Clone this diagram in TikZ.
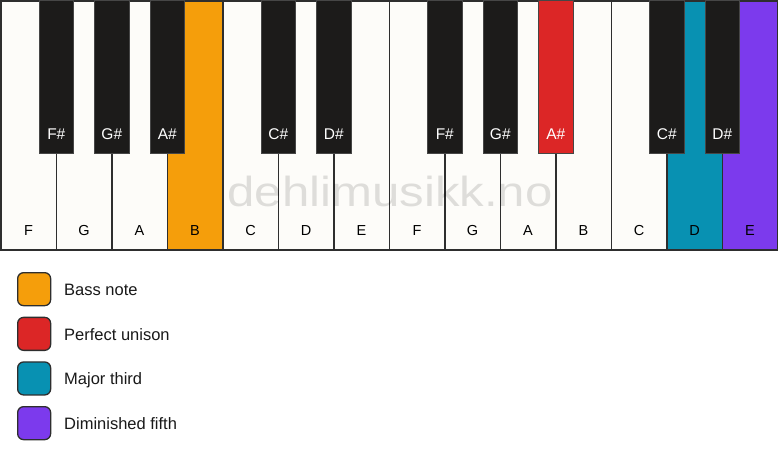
\documentclass[tikz,border=0pt]{standalone}
\usepackage{fontspec}
\setmainfont{Liberation Sans}
\definecolor{keywhite}{HTML}{FDFCF9}
\definecolor{keyblack}{HTML}{1C1B1A}
\definecolor{keyline}{HTML}{2E2E2E}
\definecolor{cbass}{HTML}{F59E0B}
\definecolor{cunison}{HTML}{DC2626}
\definecolor{cthird}{HTML}{0891B2}
\definecolor{cfifth}{HTML}{7C3AED}
\tikzset{
  whitekey/.style={draw=keyline, line width=1.5pt, fill=keywhite, minimum width=55.5pt, minimum height=249pt, anchor=north west, inner sep=0pt, outer sep=0pt},
  blackkey/.style={draw=keyline!70!gray, line width=0.8pt, fill=keyblack, minimum width=34.5pt, minimum height=153pt, anchor=north, inner sep=0pt, outer sep=0pt},
  wlabel/.style={font=\fontsize{14.5}{14.5}\selectfont, text=black, anchor=base, inner sep=0pt},
  blabel/.style={font=\fontsize{15.5}{15.5}\selectfont, text=white, anchor=base, inner sep=0pt},
  swatch/.style={draw=keyline, line width=1.3pt, rounded corners=6pt, minimum width=33pt, minimum height=33pt, anchor=north west, inner sep=0pt},
  legtext/.style={font=\fontsize{16.5}{16.5}\selectfont, text=black!90, anchor=base west, inner sep=0pt},
  watermark/.style={font=\fontsize{42}{42}\selectfont, text=black, opacity=0.12, anchor=base, xscale=1.17}
}
\begin{document}
\begin{tikzpicture}[x=1pt, y=-1pt]
\useasboundingbox (0,0) rectangle (778,461);
\fill[white] (0,0) rectangle (778,461);
% white keys
\foreach \i/\n/\c in {0/F/keywhite,1/G/keywhite,2/A/keywhite,3/B/cbass,4/C/keywhite,5/D/keywhite,6/E/keywhite,7/F/keywhite,8/G/keywhite,9/A/keywhite,10/B/keywhite,11/C/keywhite,12/D/cthird,13/E/cfifth}{
  \node[whitekey, fill=\c] (w\i) at ({0.8+55.5*\i},0.8) {};
  \node[wlabel] (wl\i) at ([yshift=14pt]w\i.south) {\n};
}
% watermark
\node[watermark] (wm) at (390,206) {dehlimusikk.no};
% black keys
\foreach \i/\n/\c in {1/F\#/keyblack,2/G\#/keyblack,3/A\#/keyblack,5/C\#/keyblack,6/D\#/keyblack,8/F\#/keyblack,9/G\#/keyblack,10/A\#/cunison,12/C\#/keyblack,13/D\#/keyblack}{
  \node[blackkey, fill=\c] (b\i) at ({0.8+55.5*\i},0) {};
  \node[blabel] (bl\i) at ([yshift=14pt]b\i.south) {\n};
}
% legend
\node[swatch, fill=cbass] (s1) at (17,272) {};
\node[legtext] (t1) at (64,295.5) {Bass note};
\node[swatch, fill=cunison] (s2) at (17,316.7) {};
\node[legtext] (t2) at (64,340.2) {Perfect unison};
\node[swatch, fill=cthird] (s3) at (17,361.3) {};
\node[legtext] (t3) at (64,384.8) {Major third};
\node[swatch, fill=cfifth] (s4) at (17,406) {};
\node[legtext] (t4) at (64,429.5) {Diminished fifth};
\end{tikzpicture}
\end{document}
